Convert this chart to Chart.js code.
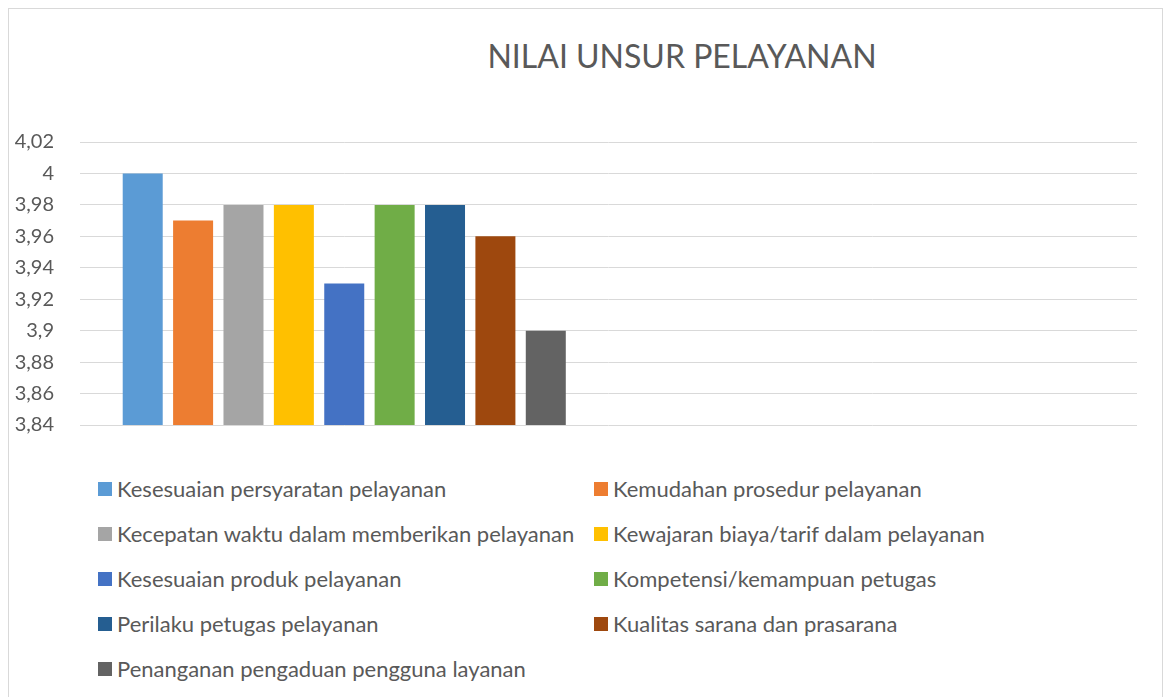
<!DOCTYPE html>
<html>
<head>
<meta charset="utf-8">
<script src="https://cdn.jsdelivr.net/npm/chart.js@4.4.1/dist/chart.umd.min.js"></script>
<style>
  html, body { margin: 0; padding: 0; background: #fff; }
  body { width: 1165px; height: 697px; position: relative; overflow: hidden; font-family: Lato, "Open Sans", sans-serif; color: #595959; }
  .frame { position: absolute; left: 8px; top: 8px; width: 1153px; height: 720px; border: 1px solid #d9d9d9; border-bottom: none; }
  .title { position: absolute; left: 382px; width: 600px; top: 36px; text-align: center; font-size: 32px; line-height: 40px; color: #595959; }
  .chart-box { position: absolute; left: 9px; top: 9px; width: 1153px; height: 454px; }
  .legend { position: absolute; left: 98px; top: 466px; display: grid; grid-template-columns: 496px auto; grid-auto-rows: 45px; }
  .legend-item { display: flex; align-items: center; font-size: 22px; white-space: nowrap; }
  .legend-box { width: 14px; height: 14px; margin-right: 5px; flex: none; }
</style>
</head>
<body>
<div class="frame"></div>
<div class="title">NILAI UNSUR PELAYANAN</div>
<div class="chart-box"><canvas id="chart"></canvas></div>
<div class="legend" id="legend"></div>
<script>
const categories = ['', ''];
const seriesNames = [
  'Kesesuaian persyaratan pelayanan',
  'Kemudahan prosedur pelayanan',
  'Kecepatan waktu dalam memberikan pelayanan',
  'Kewajaran biaya/tarif dalam pelayanan',
  'Kesesuaian produk pelayanan',
  'Kompetensi/kemampuan petugas',
  'Perilaku petugas pelayanan',
  'Kualitas sarana dan prasarana',
  'Penanganan pengaduan pengguna layanan'
];
const seriesValues = [4.00, 3.97, 3.98, 3.98, 3.93, 3.98, 3.98, 3.96, 3.90];
const seriesColors = ['#5B9BD5', '#ED7D31', '#A5A5A5', '#FFC000', '#4472C4', '#70AD47', '#255E91', '#9E480E', '#636363'];
const tickLabels = ['3,84', '3,86', '3,88', '3,9', '3,92', '3,94', '3,96', '3,98', '4', '4,02'];

const datasets = seriesNames.map((name, i) => ({
  label: name,
  data: [seriesValues[i], null],
  backgroundColor: seriesColors[i],
  borderWidth: 0,
  categoryPercentage: 0.858,
  barPercentage: 0.794
}));

const chart = new Chart(document.getElementById('chart'), {
  type: 'bar',
  data: { labels: categories, datasets: datasets },
  options: {
    responsive: true,
    maintainAspectRatio: false,
    animation: false,
    layout: { padding: { top: 133, bottom: 3, left: 0, right: 25 } },
    plugins: {
      legend: { display: false },
      title: { display: false },
      tooltip: { enabled: false }
    },
    scales: {
      x: {
        grid: { display: false },
        border: { display: false },
        ticks: { display: false },
        afterFit: (scale) => { scale.height = 0; }
      },
      y: {
        min: 3.84,
        max: 4.02,
        beginAtZero: false,
        border: { display: false },
        grid: { color: '#d9d9d9', lineWidth: 1, drawTicks: false },
        ticks: {
          stepSize: 0.02,
          padding: 26,
          color: '#595959',
          font: { family: 'Lato', size: 20 },
          callback: (value, index) => tickLabels[index]
        },
        afterFit: (scale) => { scale.width = 71; }
      }
    }
  }
});

const legendEl = document.getElementById('legend');
chart.data.datasets.forEach(ds => {
  const item = document.createElement('div');
  item.className = 'legend-item';
  item.innerHTML = `<span class="legend-box" style="background:${ds.backgroundColor}"></span><span>${ds.label}</span>`;
  legendEl.appendChild(item);
});
</script>
</body>
</html>
